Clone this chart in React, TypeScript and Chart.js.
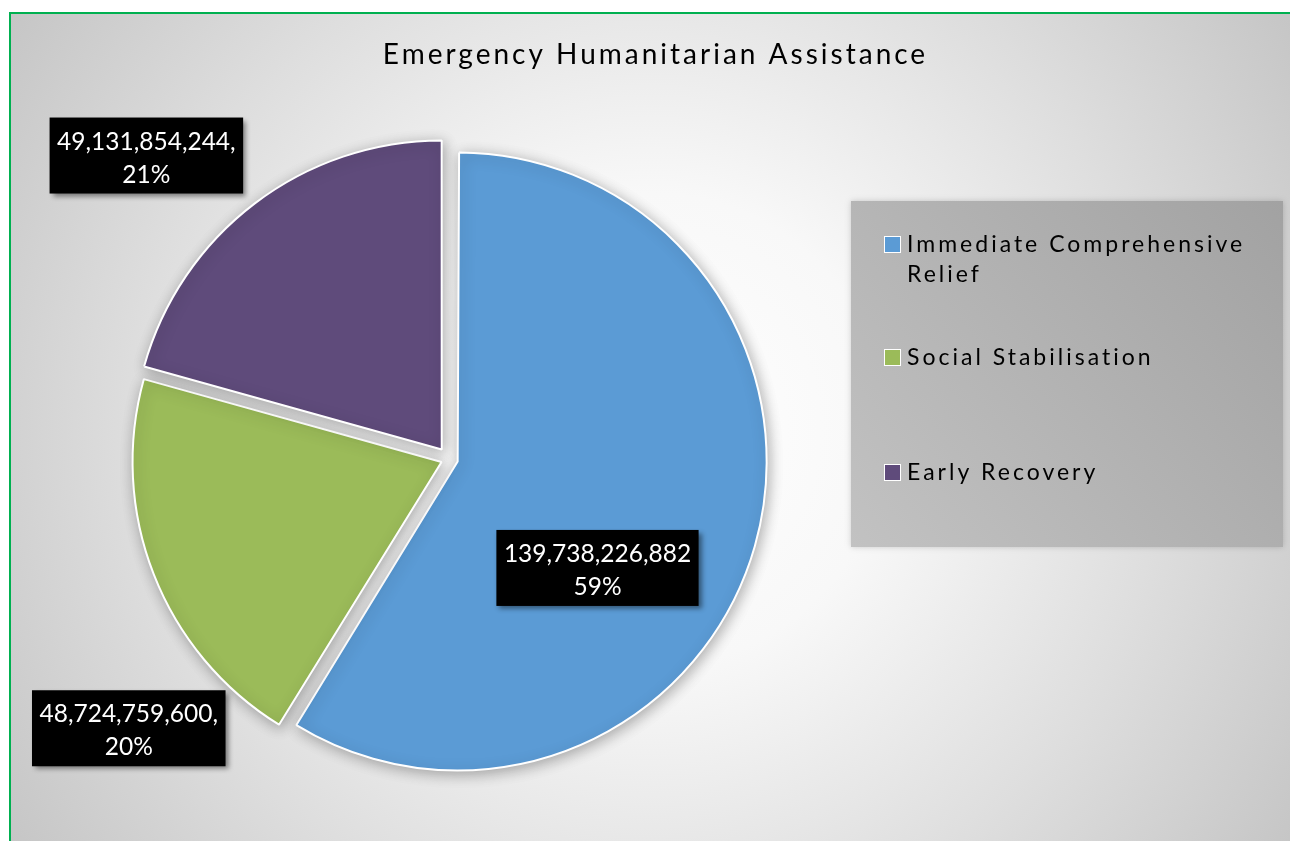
import React, { useEffect, useRef } from 'react';
import { Chart, registerables } from 'chart.js';

Chart.register(...registerables);

// ---- data ----
const chartTitle = 'Emergency Humanitarian Assistance';
const categories = ['Immediate Comprehensive Relief', 'Social Stabilisation', 'Early Recovery'];
const values = [139738226882, 48724759600, 49131854244];
const percentLabels = ['59%', '20%', '21%'];
const valueSeparators = ['', ',', ','];
const sliceColors = ['#5B9BD5', '#9BBB59', '#5F4B7B'];

// ---- styling / placement ----
const W = 1290;
const H = 841;
const PIE_RADIUS = 309;
const sliceOffsets = [36, 32, 48];
const labelAngleShift = [20.4, -18.7, -7.7];
const labelRadiusFactor = [0.596, 1.354, 1.387];
const FONT = 'Lato, "Open Sans", sans-serif';

const backgroundPlugin = {
  id: 'bgPlugin',
  afterDatasetUpdate(chart: any, args: any) {
    // keep every exploded slice at the same drawn radius
    args.meta.data.forEach((arc: any, i: number) => {
      const fix = 1 - Math.sin(Math.min(Math.PI, arc.circumference || 0));
      arc.outerRadius = PIE_RADIUS - (sliceOffsets[i] / 4) * fix;
    });
  },
  beforeDraw(chart: any) {
    const ctx = chart.ctx as CanvasRenderingContext2D;
    ctx.save();
    ctx.fillStyle = '#ffffff';
    ctx.fillRect(0, 0, W, H);
    const g = ctx.createRadialGradient(650, 430, 0, 650, 430, 790);
    g.addColorStop(0, '#ffffff');
    g.addColorStop(0.3, '#f8f8f8');
    g.addColorStop(0.65, '#dedede');
    g.addColorStop(1, '#c3c3c3');
    ctx.fillStyle = g;
    ctx.fillRect(10, 13, W - 10, H - 13);
    ctx.fillStyle = '#00B050';
    ctx.fillRect(9, 12, W - 9, 2);
    ctx.fillRect(9, 12, 2, H - 12);

    // title
    (ctx as any).letterSpacing = '3px';
    ctx.font = `28px ${FONT}`;
    ctx.fillStyle = '#000000';
    ctx.textAlign = 'left';
    ctx.textBaseline = 'alphabetic';
    const tw = ctx.measureText(chartTitle).width - 3;
    ctx.fillText(chartTitle, 654 - tw / 2, 64);

    // legend box
    const lx = 851, ly = 201, lw = 432, lh = 346;
    ctx.shadowColor = 'rgba(0,0,0,0.18)';
    ctx.shadowBlur = 6;
    const lg = ctx.createLinearGradient(lx, ly + lh, lx + lw, ly);
    lg.addColorStop(0, '#c2c2c2');
    lg.addColorStop(1, '#a2a2a2');
    ctx.fillStyle = lg;
    ctx.fillRect(lx, ly, lw, lh);
    ctx.shadowColor = 'transparent';
    ctx.shadowBlur = 0;

    (ctx as any).letterSpacing = '3px';
    ctx.font = `23px ${FONT}`;
    const rowBaselines = [252, 365, 480];
    const textX = 907;
    const maxW = lx + lw - textX - 12;
    const labels = chart.data.labels as string[];
    labels.forEach((label, i) => {
      const words = label.split(' ');
      const lines: string[] = [];
      let cur = '';
      words.forEach((w) => {
        const test = cur ? cur + ' ' + w : w;
        if (ctx.measureText(test).width > maxW && cur) {
          lines.push(cur);
          cur = w;
        } else cur = test;
      });
      if (cur) lines.push(cur);
      const by = rowBaselines[i];
      ctx.fillStyle = '#ffffff';
      ctx.fillRect(884, by - 16, 17, 17);
      ctx.fillStyle = sliceColors[i];
      ctx.fillRect(885, by - 15, 15, 15);
      ctx.fillStyle = '#000000';
      lines.forEach((ln, j) => ctx.fillText(ln, textX, by + j * 30));
    });
    (ctx as any).letterSpacing = '0px';
    ctx.restore();
  },
  beforeDatasetsDraw(chart: any) {
    const ctx = chart.ctx as CanvasRenderingContext2D;
    ctx.save();
    ctx.shadowColor = 'rgba(0,0,0,0.3)';
    ctx.shadowBlur = 14;
    ctx.shadowOffsetX = 2;
    ctx.shadowOffsetY = 3;
  },
  afterDatasetsDraw(chart: any) {
    chart.ctx.restore();
  },
  afterDraw(chart: any) {
    const ctx = chart.ctx as CanvasRenderingContext2D;
    const meta = chart.getDatasetMeta(0);
    const data = chart.data.datasets[0].data as number[];
    ctx.save();
    (ctx as any).letterSpacing = '0px';
    ctx.font = `24.5px ${FONT}`;
    meta.data.forEach((arc: any, i: number) => {
      const p = arc.getProps(['x', 'y', 'startAngle', 'endAngle'], true);
      const ang = (p.startAngle + p.endAngle) / 2 + (labelAngleShift[i] * Math.PI) / 180;
      const r = PIE_RADIUS * labelRadiusFactor[i];
      const cx = p.x + Math.cos(ang) * r;
      const cy = p.y + Math.sin(ang) * r;
      const line1 = data[i].toLocaleString('en-US') + valueSeparators[i];
      const line2 = percentLabels[i];
      const w1 = ctx.measureText(line1).width;
      const bw = w1 + 15;
      const bh = 76;
      ctx.shadowColor = 'rgba(0,0,0,0.45)';
      ctx.shadowBlur = 5;
      ctx.shadowOffsetX = 3;
      ctx.shadowOffsetY = 3;
      ctx.fillStyle = '#000000';
      ctx.fillRect(cx - bw / 2, cy - bh / 2, bw, bh);
      ctx.shadowColor = 'transparent';
      ctx.shadowBlur = 0;
      ctx.shadowOffsetX = 0;
      ctx.shadowOffsetY = 0;
      ctx.fillStyle = '#ffffff';
      ctx.textAlign = 'center';
      ctx.textBaseline = 'alphabetic';
      ctx.fillText(line1, cx, cy - 6);
      ctx.fillText(line2, cx, cy + 27);
    });
    ctx.restore();
  },
};

export default function App() {
  const ref = useRef<HTMLCanvasElement | null>(null);
  useEffect(() => {
    if (!ref.current) return;
    const chart = new Chart(ref.current, {
      type: 'pie',
      data: {
        labels: categories,
        datasets: [
          {
            data: values,
            backgroundColor: sliceColors,
            borderColor: '#ffffff',
            borderWidth: 2,
            offset: sliceOffsets,
          } as any,
        ],
      },
      options: {
        responsive: false,
        devicePixelRatio: 1,
        animation: false,
        radius: PIE_RADIUS,
        layout: { padding: { left: 0, right: 392, top: 77, bottom: 0 } },
        plugins: {
          legend: { display: false },
          title: { display: false },
          tooltip: { enabled: false },
        },
      } as any,
      plugins: [backgroundPlugin],
    });
    return () => chart.destroy();
  }, []);
  return (
    <div style={{ position: 'fixed', left: 0, top: 0, width: W, height: H }}>
      <canvas ref={ref} width={W} height={H} style={{ width: W, height: H, display: 'block' }} />
    </div>
  );
}
